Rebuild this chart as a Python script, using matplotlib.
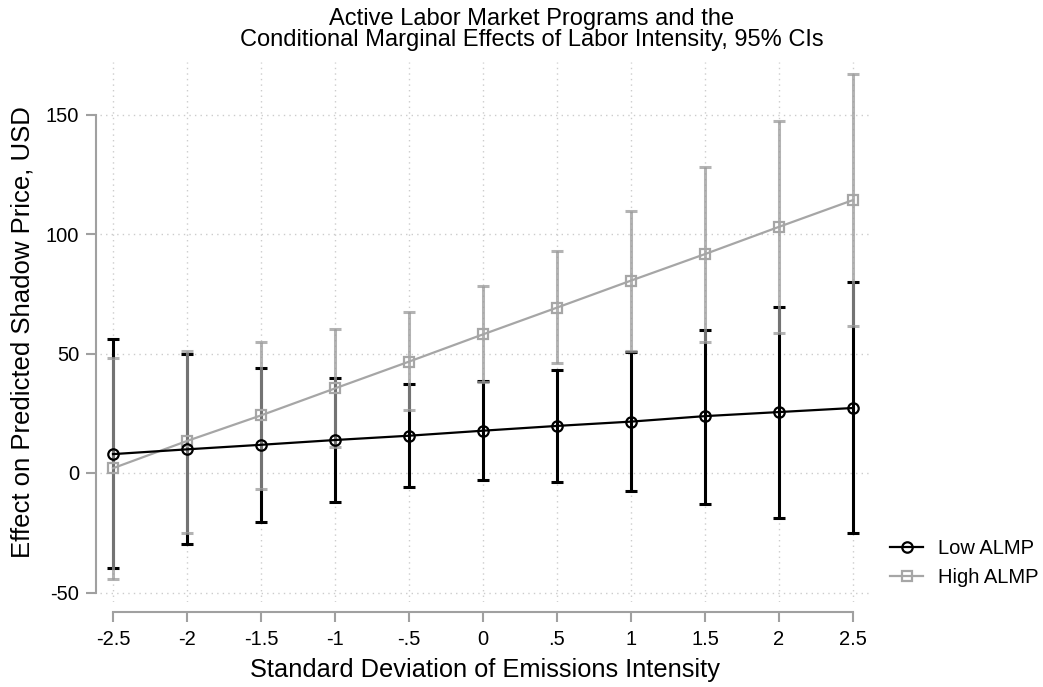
import numpy as np
import matplotlib.pyplot as plt

plt.rcParams['font.family'] = ['Liberation Sans', 'DejaVu Sans']
plt.rcParams['axes.unicode_minus'] = False

# standard deviation of emissions intensity
sd = [-2.5, -2, -1.5, -1, -0.5, 0, 0.5, 1, 1.5, 2, 2.5]
sd_labels = ['-2.5', '-2', '-1.5', '-1', '-.5', '0', '.5', '1', '1.5', '2', '2.5']

# low ALMP: point estimate and 95% CI
low = [7.9, 9.9, 11.8, 13.8, 15.6, 17.7, 19.7, 21.5, 23.8, 25.5, 27.2]
low_hi = [55.9, 49.8, 44.0, 39.9, 37.1, 38.5, 43.0, 50.8, 59.8, 69.4, 79.9]
low_lo = [-39.9, -29.7, -20.4, -12.0, -5.7, -2.9, -3.9, -7.5, -12.8, -18.7, -25.0]

# high ALMP
high = [2.0, 13.4, 24.1, 35.4, 46.6, 58.0, 69.2, 80.5, 91.6, 103.0, 114.2]
high_hi = [48.0, 51.2, 54.9, 60.1, 67.4, 78.1, 92.8, 109.8, 128.2, 147.3, 167.0]
high_lo = [-44.5, -25.2, -6.7, 10.7, 26.2, 38.0, 45.9, 51.2, 55.0, 58.7, 61.4]

W, H = 1043, 687
fig = plt.figure(figsize=(W / 100, H / 100), dpi=100)
ax = fig.add_axes([100 / W, 1 - 602 / H, 770 / W, 540 / H])

def ci(x, y, lo, hi, color, alpha):
    yerr = [np.array(y) - np.array(lo), np.array(hi) - np.array(y)]
    ax.errorbar(x, y, yerr=yerr, fmt='none', ecolor=color, elinewidth=2.2,
                capsize=4, capthick=2.2, alpha=alpha, zorder=2)

ci(sd, low, low_lo, low_hi, 'black', 1.0)
ci(sd, high, high_lo, high_hi, '#9a9a9a', 0.75)

ax.plot(sd, low, color='black', lw=1.6, marker='o', ms=7.5, mfc='none',
        mec='black', mew=1.6, label='Low ALMP', zorder=4)
ax.plot(sd, high, color='#a6a6a6', lw=1.6, marker='s', ms=7.5, mfc='none',
        mec='#a6a6a6', mew=1.6, label='High ALMP', zorder=3)

ax.set_xlim((100 - 483) / 148, (870 - 483) / 148)
ax.set_ylim((473 - 602) / 2.39, (473 - 62) / 2.39)
ax.set_xticks(sd)
ax.set_xticklabels(sd_labels)
ax.set_yticks([-50, 0, 50, 100, 150])

ax.grid(True, color='#cccccc', linestyle=(0, (1, 3)), lw=1)
ax.set_axisbelow(True)
for s in ['top', 'right']:
    ax.spines[s].set_visible(False)
ax.spines['left'].set_position(('outward', 3))
ax.spines['left'].set_bounds(-50, 150)
ax.spines['bottom'].set_position(('outward', 7))
ax.spines['bottom'].set_bounds(-2.5, 2.5)
for s in ['left', 'bottom']:
    ax.spines[s].set_color('#a0a0a0')
    ax.spines[s].set_linewidth(1.5)
ax.tick_params(colors='#a0a0a0', labelcolor='black', length=7, width=1.5,
               labelsize=14.5)
ax.tick_params(axis='x', pad=6)
ax.tick_params(axis='y', pad=5)

ax.set_xlabel('Standard Deviation of Emissions Intensity', fontsize=18.3, labelpad=7)
ax.set_ylabel('Effect on Predicted Shadow Price, USD', fontsize=18.5, labelpad=8)

fig.text(532 / W, 1 - 19 / H, 'Active Labor Market Programs and the',
         ha='center', va='center', fontsize=17)
fig.text(532 / W, 1 - 40 / H,
         'Conditional Marginal Effects of Labor Intensity, 95% CIs',
         ha='center', va='center', fontsize=17)

fig.legend(loc='center left', bbox_to_anchor=(882 / W, 1 - 563 / H),
           frameon=False, fontsize=14.5, handlelength=1.65, handletextpad=0.75,
           labelspacing=0.5, borderaxespad=0)

fig.savefig('out.png', dpi=100)
